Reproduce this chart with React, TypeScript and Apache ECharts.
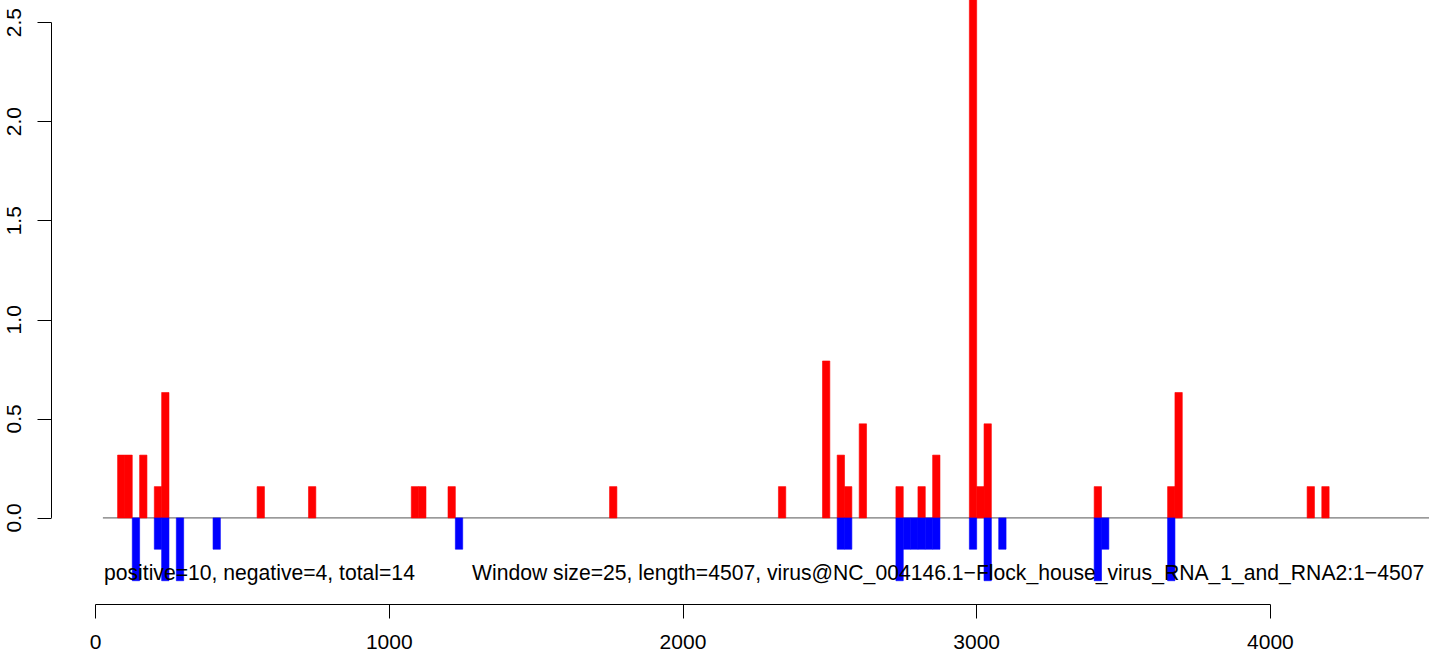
import React, { useEffect, useRef } from "react";
import * as echarts from "echarts";

// window size (nt) of each bar
const WINDOW = 25;

// positive-strand windows: start position and value
const posStart = [75, 100, 150, 200, 225, 550, 725, 1075, 1100, 1200, 1750, 2325, 2475, 2525, 2550, 2600, 2725, 2800, 2850, 2975, 3000, 3025, 3400, 3650, 3675, 4125, 4175];
const posValue = [0.317, 0.317, 0.317, 0.158, 0.633, 0.158, 0.158, 0.158, 0.158, 0.158, 0.158, 0.158, 0.792, 0.317, 0.158, 0.475, 0.158, 0.158, 0.317, 2.7, 0.158, 0.475, 0.158, 0.158, 0.633, 0.158, 0.158];

// negative-strand windows: start position and value
const negStart = [125, 200, 225, 275, 400, 1225, 2525, 2550, 2725, 2750, 2775, 2800, 2825, 2850, 2975, 3025, 3075, 3400, 3425, 3650];
const negValue = [-0.317, -0.158, -0.317, -0.317, -0.158, -0.158, -0.158, -0.158, -0.317, -0.158, -0.158, -0.158, -0.158, -0.158, -0.158, -0.317, -0.158, -0.317, -0.158, -0.317];

const xTicks = [0, 1000, 2000, 3000, 4000];
const yTicks = [0, 0.5, 1.0, 1.5, 2.0, 2.5];

const X_MIN = -150;
const X_MAX = 4540;
const Y_MIN = -0.437;
const Y_MAX = 2.614;
const BASE_START = 25;

const summaryText = "positive=10, negative=4, total=14";
const infoText = "Window size=25, length=4507, virus@NC_004146.1\u2212Flock_house_virus_RNA_1_and_RNA2:1\u22124507";

const FONT = "'Liberation Sans', Arial, Helvetica, sans-serif";
const FS = 21;
const FS_TEXT = 21.15;

function barRenderer(color: string) {
  return (params: any, api: any) => {
    const x0 = api.value(0);
    const v = api.value(1);
    const p1 = api.coord([x0, 0]);
    const p2 = api.coord([x0 + WINDOW, v]);
    return {
      type: "rect",
      shape: {
        x: p1[0],
        y: Math.min(p1[1], p2[1]),
        width: p2[0] - p1[0],
        height: Math.abs(p2[1] - p1[1]),
      },
      style: { fill: color, stroke: color, lineWidth: 0.6 },
    };
  };
}

export default function App() {
  const ref = useRef<HTMLDivElement>(null);
  useEffect(() => {
    if (!ref.current) return;
    const chart = echarts.init(ref.current, null, { renderer: "svg" });
    const option: any = {
      animation: false,
      backgroundColor: "#ffffff",
      textStyle: { fontFamily: FONT },
      grid: { left: 51.5, right: 0, top: 0, bottom: 47.5, containLabel: false },
      xAxis: {
        type: "value",
        min: X_MIN,
        max: X_MAX,
        axisLine: { show: false, onZero: false },
        splitLine: { show: false },
        axisTick: {
          show: true,
          customValues: xTicks,
          length: 14,
          lineStyle: { color: "#000", width: 1 },
        },
        axisLabel: {
          customValues: xTicks,
          color: "#000",
          fontSize: FS,
          fontFamily: FONT,
          margin: 26,
          formatter: (v: number) => String(v),
        },
      },
      yAxis: {
        type: "value",
        min: Y_MIN,
        max: Y_MAX,
        axisLine: { show: false, onZero: false },
        splitLine: { show: false },
        axisTick: {
          show: true,
          customValues: yTicks,
          length: 14,
          lineStyle: { color: "#000", width: 1 },
        },
        axisLabel: {
          customValues: yTicks,
          color: "#000",
          fontSize: FS,
          fontFamily: FONT,
          rotate: 90,
          margin: 28,
          formatter: (v: number) => v.toFixed(1),
        },
      },
      series: [
        {
          type: "line",
          data: [[BASE_START, 0], [X_MAX, 0]],
          symbol: "none",
          silent: true,
          lineStyle: { color: "#555555", width: 1 },
          z: 1,
        },
        {
          type: "custom",
          renderItem: barRenderer("#ff0000"),
          data: posStart.map((s, i) => [s, posValue[i]]),
          encode: { x: 0, y: 1 },
          clip: true,
          z: 2,
        },
        {
          type: "custom",
          renderItem: barRenderer("#0000ff"),
          data: negStart.map((s, i) => [s, negValue[i]]),
          encode: { x: 0, y: 1 },
          clip: true,
          z: 2,
        },
        {
          type: "line",
          data: [[xTicks[0], Y_MIN], [xTicks[xTicks.length - 1], Y_MIN]],
          symbol: "none",
          silent: true,
          clip: false,
          lineStyle: { color: "#000", width: 1 },
          z: 3,
        },
        {
          type: "line",
          data: [[X_MIN, yTicks[0]], [X_MIN, yTicks[yTicks.length - 1]]],
          symbol: "none",
          silent: true,
          clip: false,
          lineStyle: { color: "#000", width: 1 },
          z: 3,
        },
      ],
      graphic: [
        {
          type: "text",
          left: 104,
          top: 562,
          z: 100,
          style: { text: summaryText, fill: "#000", font: `${FS_TEXT}px ${FONT}` },
        },
        {
          type: "text",
          left: 472,
          top: 562,
          z: 100,
          style: { text: infoText, fill: "#000", font: `${FS_TEXT}px ${FONT}` },
        },
      ],
    };
    chart.setOption(option);
    return () => chart.dispose();
  }, []);
  return (
    <div
      ref={ref}
      style={{ position: "absolute", left: 0, top: 0, width: 1429, height: 652 }}
    />
  );
}
